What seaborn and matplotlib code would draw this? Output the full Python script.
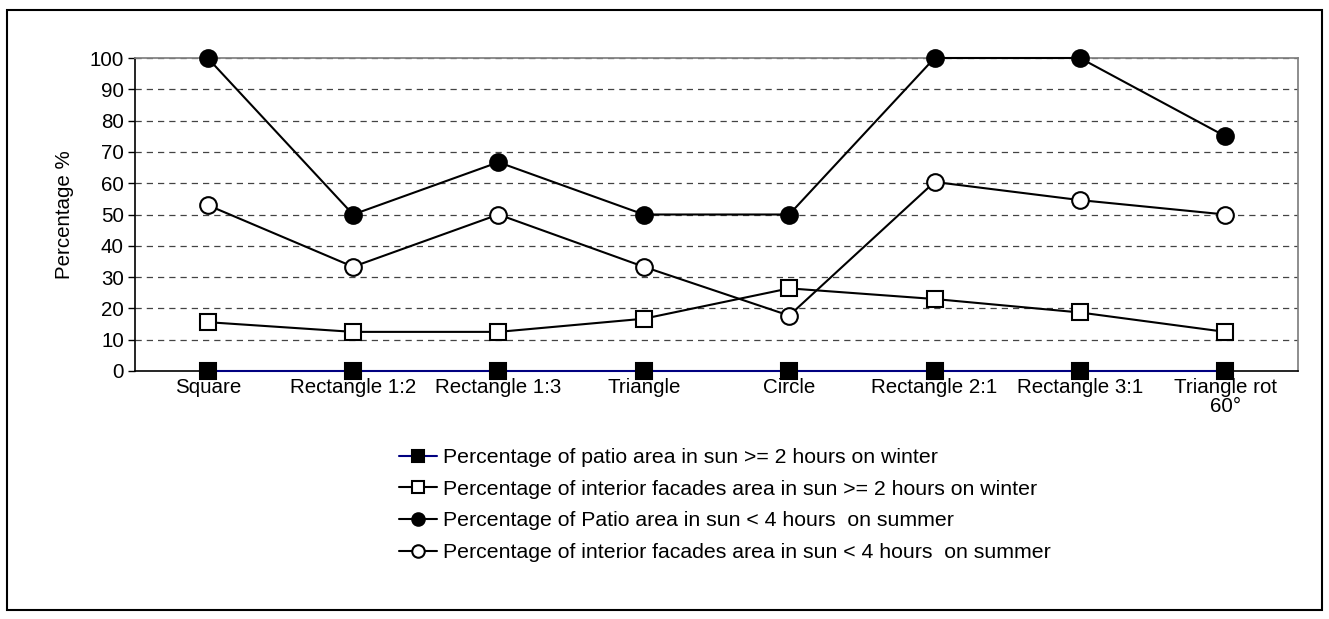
import matplotlib
matplotlib.use('Agg')
import matplotlib.pyplot as plt
import numpy as np
import pandas as pd
import seaborn as sns
from matplotlib.patches import Rectangle

sns.set_theme(style='white')
plt.rcParams['font.family'] = ['Liberation Sans', 'DejaVu Sans']
plt.rcParams['text.color'] = 'black'
plt.rcParams['axes.labelcolor'] = 'black'
plt.rcParams['xtick.color'] = 'black'
plt.rcParams['ytick.color'] = 'black'

# shapes along the x axis
shapes = ['Square', 'Rectangle 1:2', 'Rectangle 1:3', 'Triangle', 'Circle',
          'Rectangle 2:1', 'Rectangle 3:1', 'Triangle rot\n60°']

# values (%)
patio_winter = [0, 0, 0, 0, 0, 0, 0, 0]
facades_winter = [15.6, 12.5, 12.5, 16.7, 26.4, 23.0, 18.7, 12.5]
patio_summer = [100, 50, 66.7, 50, 50, 100, 100, 75]
facades_summer = [53.0, 33.3, 50, 33.3, 17.7, 60.4, 54.6, 50]

labels = [
    'Percentage of patio area in sun >= 2 hours on winter',
    'Percentage of interior facades area in sun >= 2 hours on winter',
    'Percentage of Patio area in sun < 4 hours  on summer',
    'Percentage of interior facades area in sun < 4 hours  on summer',
]

series = [
    (patio_winter, 's', 'black', '#000080'),
    (facades_winter, 's', 'white', 'black'),
    (patio_summer, 'o', 'black', 'black'),
    (facades_summer, 'o', 'white', 'black'),
]

FS = 14.8

fig = plt.figure(figsize=(13.29, 6.19), dpi=100)
ax = fig.add_axes([135 / 1329, 1 - 371 / 619, 1163 / 1329, 313 / 619])

# outer frame around the whole chart
fig.patches.append(Rectangle((7 / 1329, 9 / 619), 1315 / 1329, 600 / 619,
                             transform=fig.transFigure, fill=False,
                             edgecolor='black', linewidth=1.5))

x = np.arange(len(shapes))
for (vals, mk, face, lc), lab in zip(series, labels):
    df = pd.DataFrame({'x': x, 'y': vals})
    sns.lineplot(data=df, x='x', y='y', ax=ax, color=lc, linewidth=1.5,
                 marker=mk, markersize=12, markerfacecolor=face,
                 markeredgecolor='black', markeredgewidth=1.5,
                 label=lab, zorder=3, clip_on=False)

ax.set_xlim(-0.5, len(shapes) - 0.5)
ax.set_ylim(0, 100)
ax.set_yticks(range(0, 101, 10))
ax.set_yticklabels([str(v) for v in range(0, 101, 10)], fontsize=FS)
ax.set_xticks(x)
ax.set_xticklabels(shapes, fontsize=FS, linespacing=1.0)
ax.set_xticks(np.arange(-0.5, len(shapes)), minor=True)
ax.tick_params(axis='x', which='major', length=0, pad=5)
ax.tick_params(axis='x', which='minor', length=5, width=1, color='black', direction='out')
ax.tick_params(axis='y', length=5, width=1, color='black', direction='out', left=True, pad=3)
for v in range(10, 101, 10):
    ax.axhline(v, color='#444444', linestyle=(0, (5, 4)), linewidth=0.9, zorder=1)
ax.set_xlabel('')
ax.set_ylabel('Percentage %', fontsize=FS, labelpad=11)

ax.spines['left'].set_color('black')
ax.spines['bottom'].set_color('black')
ax.spines['left'].set_linewidth(1.2)
ax.spines['bottom'].set_linewidth(1.2)
ax.spines['top'].set_color('#808080')
ax.spines['right'].set_color('#808080')

handles, labs = ax.get_legend_handles_labels()
ax.get_legend().remove()
fig.legend(handles, labs, loc='upper left', bbox_to_anchor=(399 / 1329, 1 - 448 / 619),
           frameon=False, fontsize=15.3, handlelength=1.8, handletextpad=0.25,
           labelspacing=0.6, borderaxespad=0, borderpad=0, markerscale=0.75)

fig.savefig('out.png', dpi=100)
